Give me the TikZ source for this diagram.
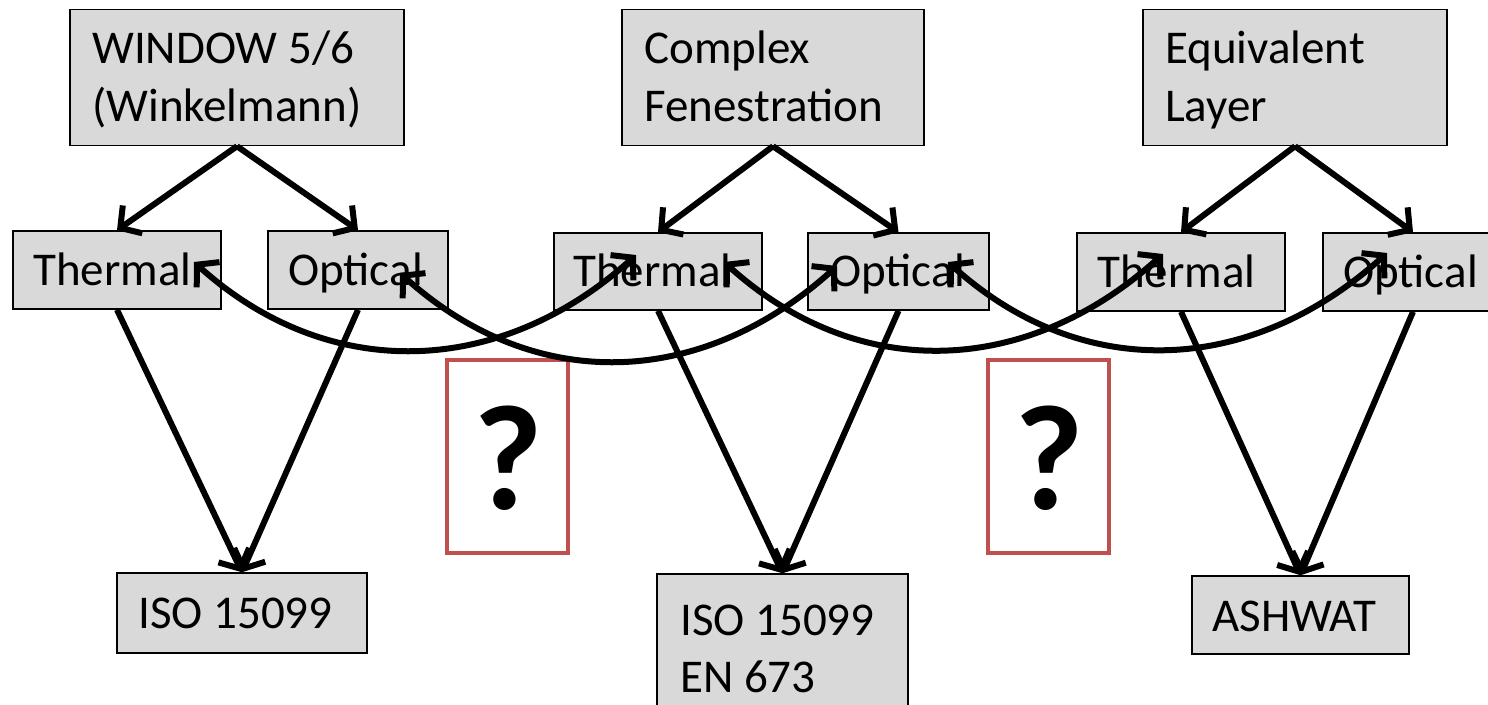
\documentclass[tikz,border=0pt]{standalone}
\usepackage{fontspec}
\setmainfont{Carlito}
\usetikzlibrary{arrows.meta}
\definecolor{boxfill}{HTML}{D9D9D9}
\definecolor{qred}{HTML}{C0504D}
\tikzset{
  box/.style={draw=black, line width=1.5pt, fill=boxfill, inner sep=0pt, rectangle},
  lbl/.style={anchor=base west, inner sep=0pt, font=\fontsize{47}{57}\selectfont},
  arr/.style={line width=6pt, -{Straight Barb[length=15pt,width=34pt]}},
  arcc/.style={line width=6pt, {Straight Barb[length=15pt,width=34pt]}-{Straight Barb[length=15pt,width=34pt]}},
  qbox/.style={draw=qred, line width=4pt, inner sep=0pt, rectangle},
  qmark/.style={font=\fontsize{150}{150}\selectfont\bfseries, inner sep=0pt}
}
\begin{document}
\begin{tikzpicture}[x=1pt,y=-1pt]
\useasboundingbox (0,0) rectangle (1488,704);
\clip (0,0) rectangle (1488,704);
% top boxes
\node[box, minimum width=334pt, minimum height=136pt] (w) at (237,77.5) {};
\node[box, minimum width=302pt, minimum height=136pt] (c) at (773,77.5) {};
\node[box, minimum width=304pt, minimum height=136pt] (e) at (1295,77.5) {};
% middle boxes
\node[box, minimum width=208pt, minimum height=78pt] (t1) at (117,270) {};
\node[box, minimum width=180pt, minimum height=78pt] (o1) at (358,270) {};
\node[box, minimum width=208pt, minimum height=77pt] (t2) at (658,271.5) {};
\node[box, minimum width=181pt, minimum height=77pt] (o2) at (898.5,271.5) {};
\node[box, minimum width=208pt, minimum height=78pt] (t3) at (1181,272) {};
\node[box, minimum width=180pt, minimum height=78pt] (o3) at (1413,272) {};
% bottom boxes
\node[box, minimum width=250pt, minimum height=80pt] (b1) at (242,613) {};
\node[box, minimum width=251pt, minimum height=160pt] (b2) at (782.5,654) {};
\node[box, minimum width=217pt, minimum height=78pt] (b3) at (1300.5,615) {};
% question boxes
\node[qbox, minimum width=121pt, minimum height=193pt] (q1) at (507.5,456.5) {};
\node[qbox, minimum width=121pt, minimum height=193pt] (q2) at (1048.5,456.5) {};
\node[qmark] (qm1) at (508,458) {?};
\node[qmark] (qm2) at (1049,458) {?};
% texts
\node[lbl] (wl1) at (92,63) {WINDOW 5/6};
\node[lbl] (wl2) at (92,121) {(Winkelmann)};
\node[lbl] (cl1) at (644,63) {Complex};
\node[lbl] (cl2) at (644,121) {Fenestration};
\node[lbl] (el1) at (1165,63) {Equivalent};
\node[lbl] (el2) at (1165,121) {Layer};
\node[lbl] (t1l) at (33,285) {Thermal};
\node[lbl] (o1l) at (288,285) {Optical};
\node[lbl] (t2l) at (573,286) {Thermal};
\node[lbl] (o2l) at (830,286) {Optical};
\node[lbl] (t3l) at (1097,287) {Thermal};
\node[lbl] (o3l) at (1343,287) {Optical};
\node[lbl] (b1l) at (138,628) {ISO 15099};
\node[lbl] (b2l1) at (680,635) {ISO 15099};
\node[lbl] (b2l2) at (680,692) {EN 673};
\node[lbl] (b3l) at (1212,631) {ASHWAT};
% straight arrows
\draw[arr] (w.south) -- (t1.north);
\draw[arr] (w.south) -- (o1.north);
\draw[arr] (c.south) -- (t2.north);
\draw[arr] (c.south) -- (o2.north);
\draw[arr] (e.south) -- (t3.north);
\draw[arr] (e.south) -- (o3.north);
\draw[arr] (t1.south) -- (b1.north);
\draw[arr] (o1.south) -- (b1.north);
\draw[arr] (t2.south) -- (b2.north);
\draw[arr] (o2.south) -- (b2.north);
\draw[arr] (t3.south) -- (b3.north);
\draw[arr] (o3.south) -- (b3.north);
% arc end points
\coordinate (ta) at (194,262);
\coordinate (oa) at (400,273);
\coordinate (tb) at (636,255);
\coordinate (tc) at (724,262);
\coordinate (ob) at (837,266);
\coordinate (oc) at (948,262);
\coordinate (td) at (1163,254);
\coordinate (od) at (1387,253);
% arcs
\draw[arcc] (ta) .. controls +(135,122) and +(-135,122) .. (tb);
\draw[arcc] (oa) .. controls +(135,122) and +(-135,122) .. (ob);
\draw[arcc] (tc) .. controls +(135,122) and +(-135,122) .. (td);
\draw[arcc] (oc) .. controls +(135,122) and +(-135,122) .. (od);
\end{tikzpicture}
\end{document}
